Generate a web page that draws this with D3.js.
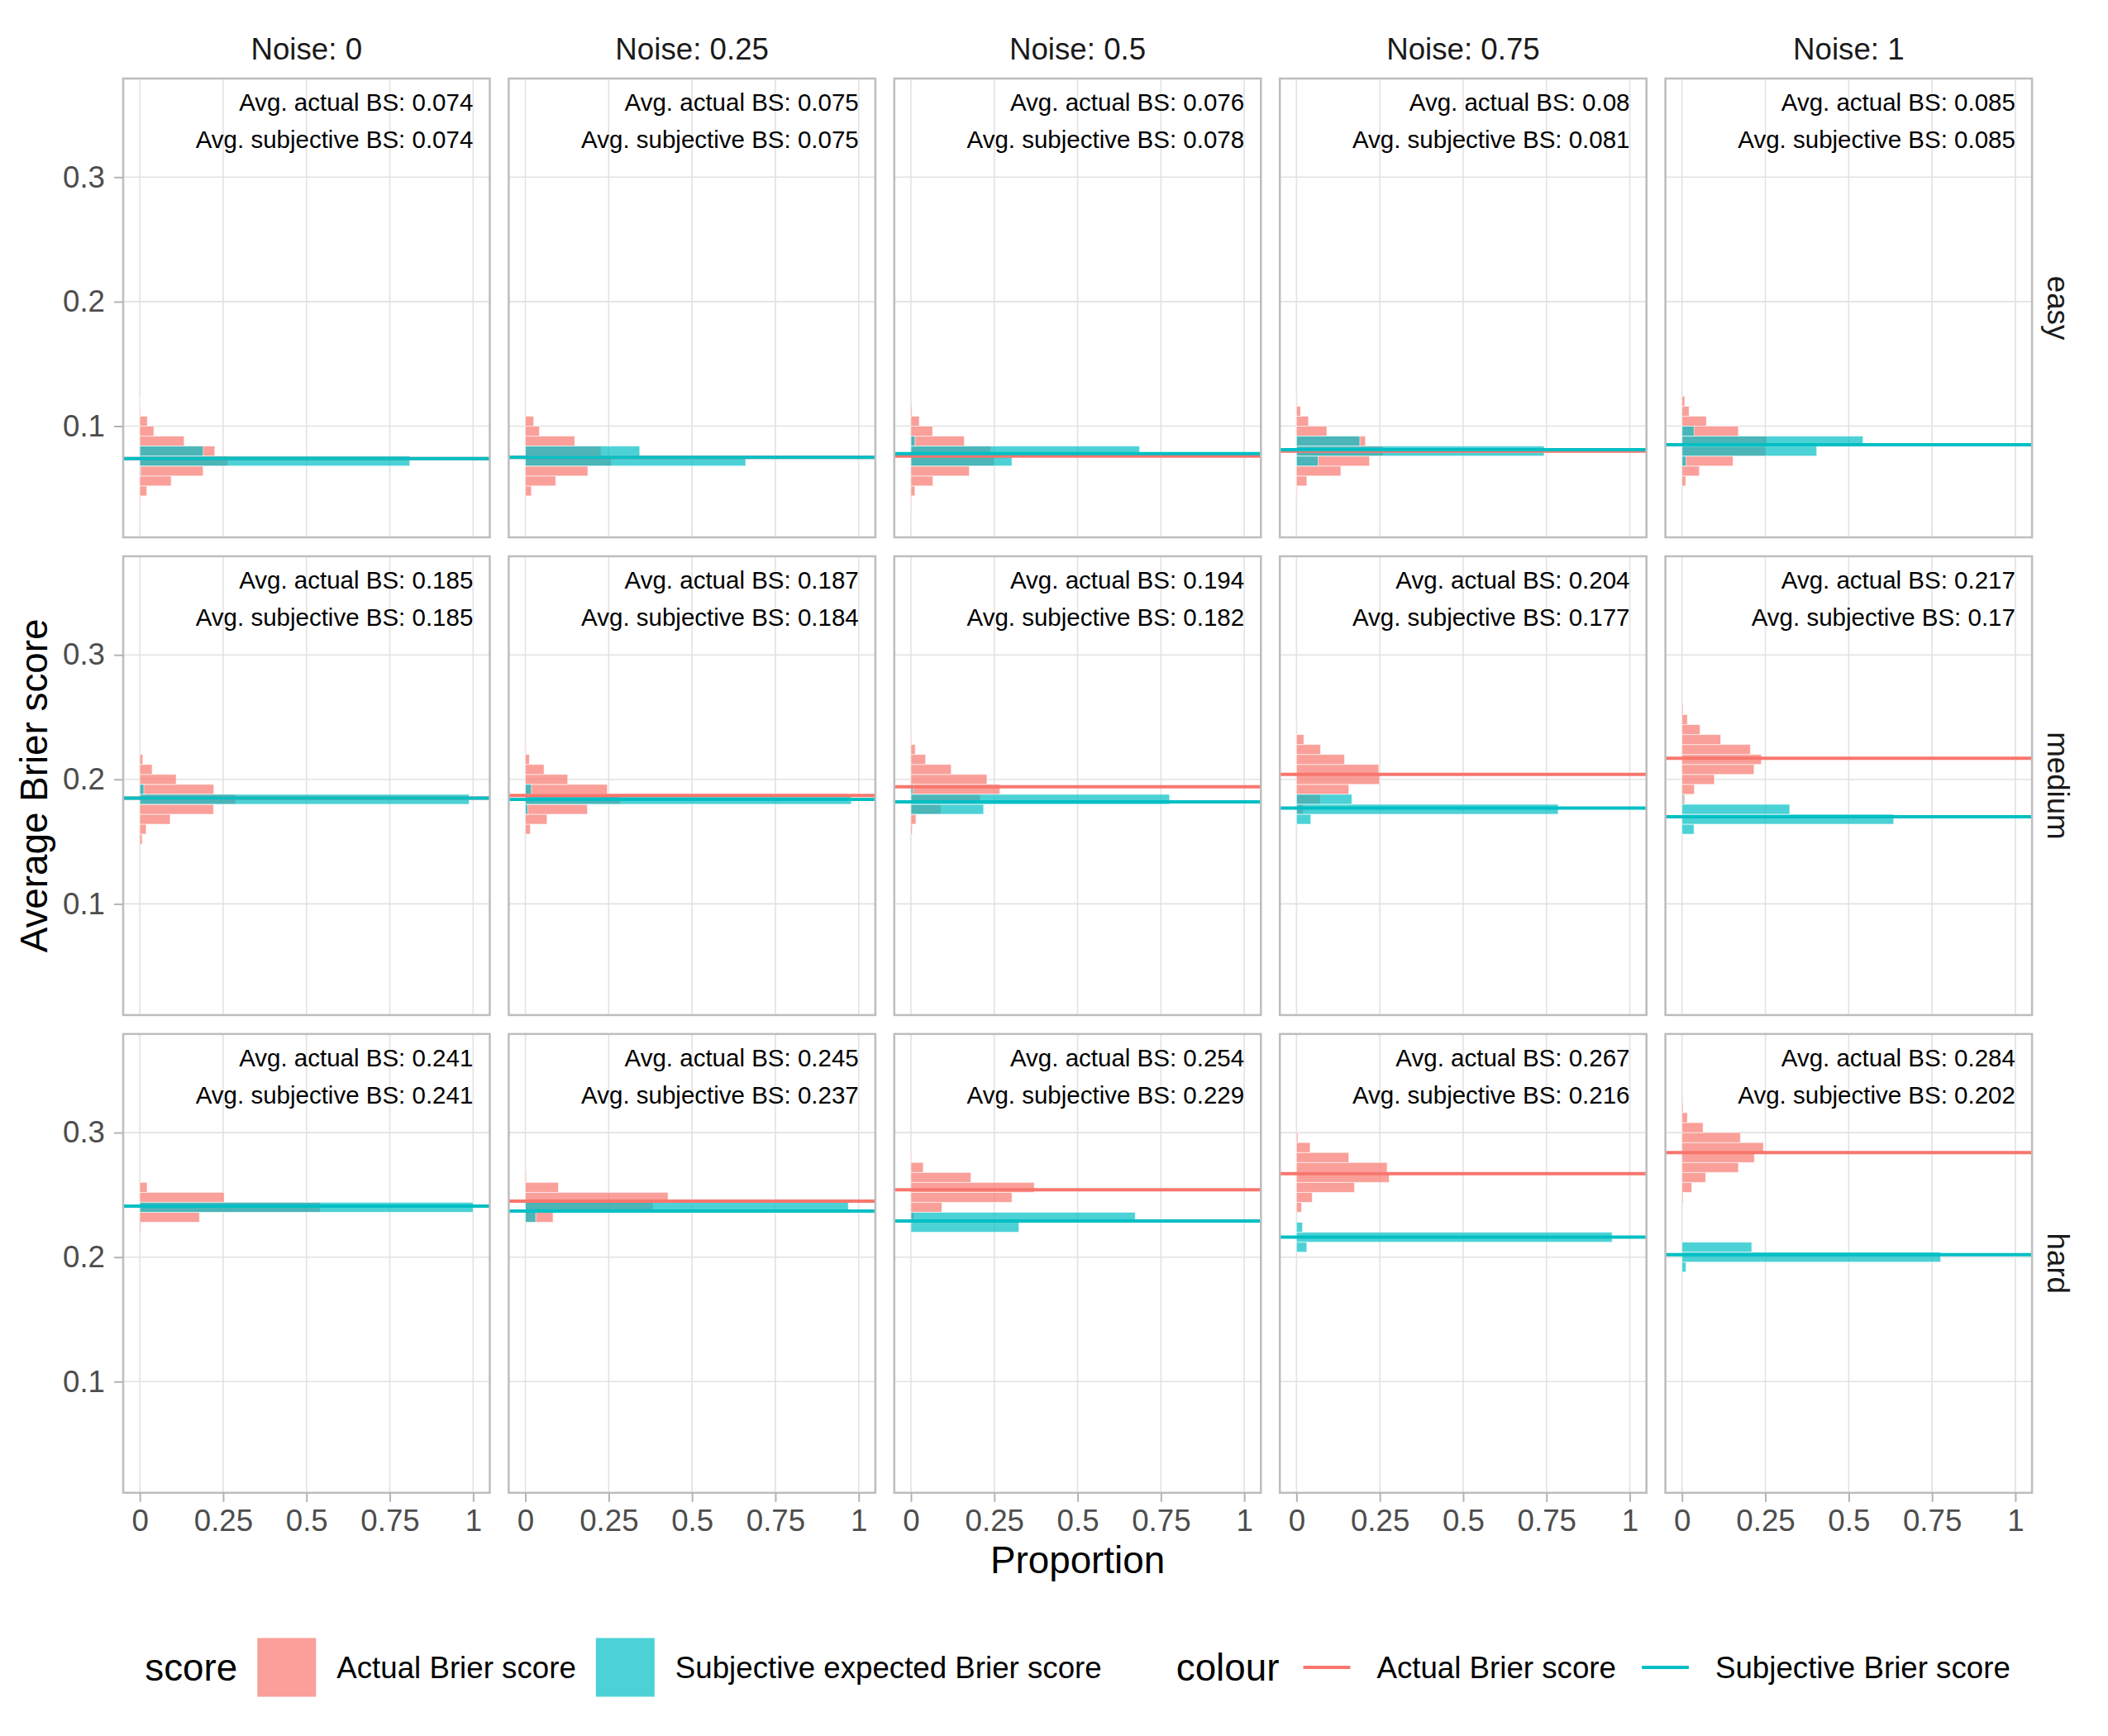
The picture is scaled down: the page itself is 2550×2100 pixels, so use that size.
<!DOCTYPE html>
<html>
<head>
<meta charset="utf-8">
<script src="https://cdn.jsdelivr.net/npm/d3@7"></script>
<style>
  body { margin: 0; background: #fff; }
  svg { display: block; font-family: 'Liberation Sans', Arial, Helvetica, sans-serif; }
</style>
</head>
<body>
<div id="container"></div>
<script>
//------------------------------DATA------------------------------//
const noiseLevels = ['0', '0.25', '0.5', '0.75', '1'];
const difficulties = ['easy', 'medium', 'hard'];

// rows = difficulty, columns = noise
const avgActual = [
  [0.074, 0.075, 0.076, 0.08, 0.085],
  [0.185, 0.187, 0.194, 0.204, 0.217],
  [0.241, 0.245, 0.254, 0.267, 0.284]
];
const avgSubjective = [
  [0.074, 0.075, 0.078, 0.081, 0.085],
  [0.185, 0.184, 0.182, 0.177, 0.17],
  [0.241, 0.237, 0.229, 0.216, 0.202]
];

const binWidth = 0.008;
// each entry: [lower edge of first bin, proportions of bins going upwards]
const actualEasy = [
  [0.036, [0.002, 0.021, 0.094, 0.19, 0.264, 0.225, 0.133, 0.042, 0.0225, 0.002, 0.001]],
  [0.044, [0.018, 0.091, 0.1875, 0.258, 0.227, 0.148, 0.042, 0.025]],
  [0.036, [0.002, 0.012, 0.066, 0.175, 0.25, 0.239, 0.16, 0.065, 0.025, 0.003]],
  [0.044, [0.002, 0.031, 0.133, 0.219, 0.26, 0.207, 0.091, 0.036, 0.012, 0.002]],
  [0.052, [0.011, 0.052, 0.153, 0.251, 0.254, 0.169, 0.073, 0.021, 0.008]]
];
const subjEasy = [
  [0.06, [0.002, 0.81, 0.19]],
  [0.068, [0.661, 0.343]],
  [0.068, [0.303, 0.686, 0.012]],
  [0.068, [0.065, 0.743, 0.19]],
  [0.068, [0.012, 0.404, 0.543, 0.036]]
];
const actualMedium = [
  [0.148, [0.007, 0.019, 0.091, 0.221, 0.287, 0.222, 0.109, 0.037, 0.009, 0.002]],
  [0.156, [0.015, 0.065, 0.186, 0.284, 0.246, 0.127, 0.056, 0.012, 0.002]],
  [0.156, [0.004, 0.015, 0.09, 0.208, 0.267, 0.228, 0.121, 0.044, 0.013, 0.002]],
  [0.172, [0.02, 0.071, 0.157, 0.249, 0.247, 0.144, 0.072, 0.022, 0.002]],
  [0.18, [0.008, 0.037, 0.097, 0.216, 0.238, 0.205, 0.116, 0.054, 0.016, 0.003]]
];
const subjMedium = [
  [0.18, [0.988, 0.012]],
  [0.172, [0.007, 0.978, 0.018]],
  [0.172, [0.218, 0.776, 0.006]],
  [0.164, [0.043, 0.785, 0.166]],
  [0.156, [0.036, 0.635, 0.323, 0.003]]
];
const actualHard = [
  [0.22, [0.003, 0.179, 0.541, 0.253, 0.022]],
  [0.228, [0.083, 0.383, 0.428, 0.099, 0.003]],
  [0.228, [0.01, 0.093, 0.303, 0.37, 0.18, 0.037, 0.002]],
  [0.236, [0.015, 0.047, 0.174, 0.278, 0.272, 0.157, 0.041, 0.004]],
  [0.244, [0.003, 0.029, 0.071, 0.169, 0.217, 0.244, 0.175, 0.063, 0.016, 0.003]]
];
const subjHard = [
  [0.236, [1.0]],
  [0.228, [0.031, 0.969]],
  [0.22, [0.324, 0.673]],
  [0.204, [0.031, 0.947, 0.018]],
  [0.188, [0.012, 0.776, 0.209]]
];

const xTicks = [0, 0.25, 0.5, 0.75, 1];
const yTicks = [0.1, 0.2, 0.3];
const fillLabels = ['Actual Brier score', 'Subjective expected Brier score'];
const lineLabels = ['Actual Brier score', 'Subjective Brier score'];

//------------------------SVG PREPARATION------------------------//
const width = 2550;
const height = 2100;
const panelLeft = 149;
const panelTop = 95;
const panelW = 443.5;
const panelH = 555;
const gap = 22.9;
const red = '#F8766D';
const teal = '#00BFC4';

const svg = d3.select('div#container').append('svg')
  .attr('width', width)
  .attr('height', height);
svg.append('rect').attr('width', width).attr('height', height).attr('fill', '#fff');

const x = d3.scaleLinear().domain([-0.05, 1.05]).range([0, panelW]);
const y = d3.scaleLinear().domain([0.0107, 0.3792]).range([panelH, 0]);

const actualHist = [actualEasy, actualMedium, actualHard];
const subjHist = [subjEasy, subjMedium, subjHard];

const toBins = ([start, props]) => props.map((p, i) => ({
  y0: start + i * binWidth,
  y1: start + (i + 1) * binWidth,
  p
}));

//---------------------------PANELS---------------------------//
difficulties.forEach((diff, r) => {
  noiseLevels.forEach((noise, c) => {
    const g = svg.append('g')
      .attr('transform', `translate(${panelLeft + c * (panelW + gap)},${panelTop + r * (panelH + gap)})`);

    // grid
    g.selectAll('line.gx').data(xTicks).join('line')
      .attr('x1', d => x(d)).attr('x2', d => x(d))
      .attr('y1', 0).attr('y2', panelH)
      .attr('stroke', '#E2E2E2').attr('stroke-width', 1.6);
    g.selectAll('line.gy').data(yTicks).join('line')
      .attr('x1', 0).attr('x2', panelW)
      .attr('y1', d => y(d)).attr('y2', d => y(d))
      .attr('stroke', '#E2E2E2').attr('stroke-width', 1.6);

    // histograms
    const bars = (data, colour) => g.append('g').selectAll('rect').data(data).join('rect')
      .attr('x', x(0))
      .attr('y', d => y(d.y1))
      .attr('width', d => x(d.p) - x(0))
      .attr('height', d => y(d.y0) - y(d.y1))
      .attr('fill', colour).attr('fill-opacity', 0.7)
      .attr('stroke', '#fff').attr('stroke-opacity', 0.6).attr('stroke-width', 1);
    bars(toBins(actualHist[r][c]), red);
    bars(toBins(subjHist[r][c]), teal);

    // mean lines
    [[avgActual[r][c], red], [avgSubjective[r][c], teal]].forEach(([v, col]) => {
      g.append('line')
        .attr('x1', 0).attr('x2', panelW)
        .attr('y1', y(v)).attr('y2', y(v))
        .attr('stroke', col).attr('stroke-width', 4);
    });

    // annotations
    g.append('text')
      .attr('x', x(1)).attr('y', y(0.36)).attr('dy', '0.35em')
      .attr('text-anchor', 'end').attr('font-size', 29.5).attr('fill', '#000')
      .text(`Avg. actual BS: ${avgActual[r][c]}`);
    g.append('text')
      .attr('x', x(1)).attr('y', y(0.33)).attr('dy', '0.35em')
      .attr('text-anchor', 'end').attr('font-size', 29.5).attr('fill', '#000')
      .text(`Avg. subjective BS: ${avgSubjective[r][c]}`);

    // border
    g.append('rect')
      .attr('width', panelW).attr('height', panelH)
      .attr('fill', 'none').attr('stroke', '#BDBDBD').attr('stroke-width', 2.5);

    // axes
    if (c === 0) {
      const ax = g.append('g').call(d3.axisLeft(y).tickValues(yTicks).tickSize(11).tickPadding(11).tickFormat(d3.format('')));
      ax.select('.domain').remove();
      ax.selectAll('line').attr('stroke', '#B3B3B3').attr('stroke-width', 2);
      ax.selectAll('text').attr('font-size', 36.7).attr('fill', '#4D4D4D');
      ax.attr('font-family', null);
    }
    if (r === difficulties.length - 1) {
      const ax = g.append('g').attr('transform', `translate(0,${panelH})`)
        .call(d3.axisBottom(x).tickValues(xTicks).tickSize(11).tickPadding(9).tickFormat(d3.format('')));
      ax.select('.domain').remove();
      ax.selectAll('line').attr('stroke', '#B3B3B3').attr('stroke-width', 2);
      ax.selectAll('text').attr('font-size', 36.7).attr('fill', '#4D4D4D');
      ax.attr('font-family', null);
    }

    // strips
    if (r === 0) {
      g.append('text')
        .attr('x', panelW / 2).attr('y', -36).attr('dy', '0.35em')
        .attr('text-anchor', 'middle').attr('font-size', 36.7).attr('fill', '#1A1A1A')
        .text(`Noise: ${noise}`);
    }
    if (c === noiseLevels.length - 1) {
      g.append('text')
        .attr('transform', `translate(${panelW + 32},${panelH / 2}) rotate(90)`)
        .attr('dy', '0.35em')
        .attr('text-anchor', 'middle').attr('font-size', 36.7).attr('fill', '#1A1A1A')
        .text(diff);
    }
  });
});

//-------------------------AXIS TITLES-------------------------//
const areaRight = panelLeft + 5 * panelW + 4 * gap;
const areaBottom = panelTop + 3 * panelH + 2 * gap;
const areaCx = (panelLeft + areaRight) / 2;

svg.append('text')
  .attr('x', areaCx).attr('y', 1903)
  .attr('text-anchor', 'middle').attr('font-size', 45.8).attr('fill', '#000')
  .text('Proportion');
svg.append('text')
  .attr('transform', `translate(41,${(panelTop + areaBottom) / 2}) rotate(-90)`)
  .attr('dy', '0.35em')
  .attr('text-anchor', 'middle').attr('font-size', 45.8).attr('fill', '#000')
  .text('Average Brier score');

//---------------------------LEGEND---------------------------//
const legendY = 2017;
const keySize = 71;
const legend = svg.append('g');
let cx = 0;
const addText = (str, size) => {
  const t = legend.append('text')
    .attr('x', cx).attr('y', legendY).attr('dy', '0.35em')
    .attr('font-size', size).attr('fill', '#000').text(str);
  cx += t.node().getComputedTextLength();
};

addText('score', 45.8);
cx += 24;
fillLabels.forEach((lab, i) => {
  legend.append('rect')
    .attr('x', cx).attr('y', legendY - keySize / 2)
    .attr('width', keySize).attr('height', keySize)
    .attr('fill', [red, teal][i]).attr('fill-opacity', 0.7);
  cx += keySize + 25;
  addText(lab, 36.7);
  cx += 24;
});
cx += 66;
addText('colour', 45.8);
cx += 22;
lineLabels.forEach((lab, i) => {
  legend.append('line')
    .attr('x1', cx + keySize * 0.1).attr('x2', cx + keySize * 0.9)
    .attr('y1', legendY).attr('y2', legendY)
    .attr('stroke', [red, teal][i]).attr('stroke-width', 4);
  cx += keySize + 25;
  addText(lab, 36.7);
  if (i === 0) cx += 24;
});
legend.attr('transform', `translate(${areaCx - cx / 2},0)`);
</script>
</body>
</html>
